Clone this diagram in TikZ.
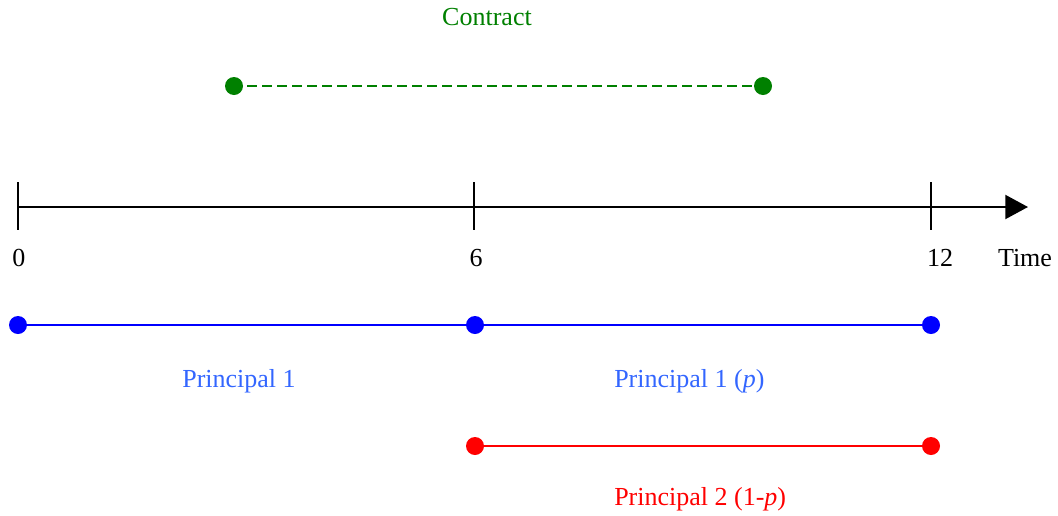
\documentclass[tikz,border=0pt]{standalone}
\usepackage{fontspec}
\setmainfont{Liberation Serif}
\usetikzlibrary{arrows.meta,positioning}
\definecolor{contractgreen}{RGB}{0,128,0}
\definecolor{labelblue}{RGB}{51,102,255}

\begin{document}
\begin{tikzpicture}[x=0.75pt,y=-0.75pt,
  font=\fontsize{19.5}{23}\selectfont,
  dot/.style={circle,fill=#1,inner sep=0pt,minimum size=13.5pt},
  lbl/.style={anchor=base,inner sep=0pt},
  span/.style={line width=1.5pt}]
\useasboundingbox (0,0) rectangle (1058,515);
% time axis
\coordinate (t0) at (18,207);
\coordinate (tend) at (1028,207);
\draw[line width=1.5pt,-{Triangle[length=17pt,width=18pt]}] (t0) -- (tend);
\foreach \x/\lab/\pos in {18/0/19,474/6/476,931/12/940}
  {\draw[line width=1.5pt] (\x,182) -- (\x,230);
   \node[lbl] (tick\lab) at (\pos,266) {\lab};}
\node[lbl] (time) at (1025,266) {Time};
% contract
\node[lbl,text=contractgreen] (contract) at (487,25) {Contract};
\node[dot=contractgreen] (c1) at (234,86) {};
\node[dot=contractgreen] (c2) at (763,86) {};
\draw[span,contractgreen,dash pattern=on 7.5pt off 3.75pt,shorten <=3pt] (c1) -- (c2);
% principal 1
\node[dot=blue] (p0) at (18,325) {};
\node[dot=blue] (p6) at (475,325) {};
\node[dot=blue] (p12) at (931,325) {};
\draw[span,blue] (p0) -- (p6);
\draw[span,blue] (p6) -- (p12);
\node[lbl,text=labelblue] (lab1) at (239,387) {Principal 1};
\node[lbl,anchor=base west,text=labelblue] (lab2) at (614,387) {Principal 1 (\textit{p})};
% principal 2
\node[dot=red] (q6) at (475,446) {};
\node[dot=red] (q12) at (931,446) {};
\draw[span,red] (q6) -- (q12);
\node[lbl,anchor=base west,text=red] (lab3) at (614,505) {Principal 2 (1-\textit{p})};
\end{tikzpicture}
\end{document}
